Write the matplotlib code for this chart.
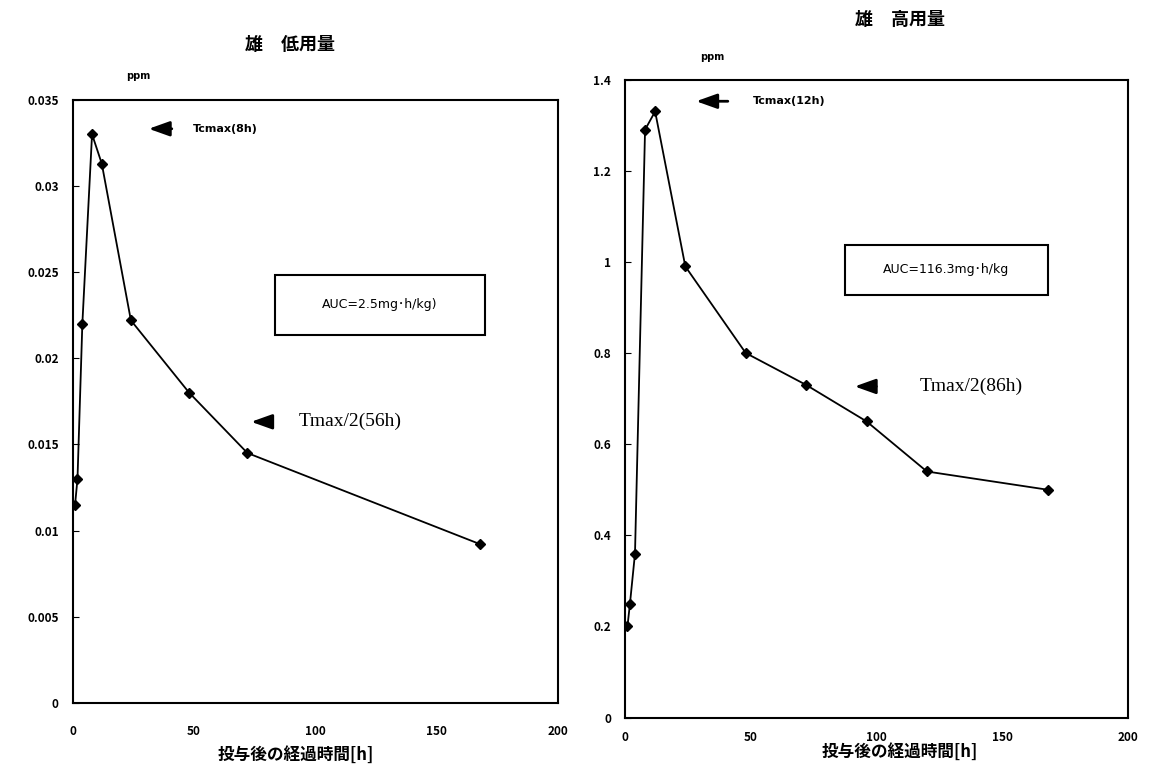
import matplotlib
matplotlib.use('Agg')
import matplotlib.pyplot as plt
from matplotlib import ticker
from matplotlib.patches import Rectangle

plt.rcParams['font.family'] = ['Noto Sans CJK JP', 'DejaVu Sans']

# 雄 低用量
low_hours = [1, 2, 4, 8, 12, 24, 48, 72, 168]
low_ppm = [0.0115, 0.013, 0.022, 0.033, 0.0313, 0.0222, 0.018, 0.0145, 0.0092]
low_yticks = [0, 0.005, 0.01, 0.015, 0.02, 0.025, 0.03, 0.035]

# 雄 高用量
high_hours = [1, 2, 4, 8, 12, 24, 48, 72, 96, 120, 168]
high_ppm = [0.2, 0.25, 0.36, 1.29, 1.33, 0.99, 0.80, 0.73, 0.65, 0.54, 0.50]
high_yticks = [0, 0.2, 0.4, 0.6, 0.8, 1.0, 1.2, 1.4]

xticks = [0, 50, 100, 150, 200]
xlabel = '投与後の経過時間[h]'
sans = ['DejaVu Sans', 'Noto Sans CJK JP']
arrow = dict(arrowstyle='-|>,head_length=0.7,head_width=0.25',
             color='black', lw=2, mutation_scale=18)


def draw_panel(ax, hours, ppm, yticks, title, tcmax, auc, tmax2, pos):
    ax.plot(hours, ppm, color='black', lw=1.3, marker='D', ms=5, mfc='black')
    ax.set_xlim(0, 200)
    ax.set_ylim(0, yticks[-1])
    ax.set_xticks(xticks)
    ax.set_yticks(yticks)
    ax.yaxis.set_major_formatter(ticker.FuncFormatter(lambda v, p: '%g' % v))
    ax.tick_params(axis='y', direction='in', length=4, labelsize=8.5, pad=10)
    ax.tick_params(axis='x', length=0, labelsize=8.5, pad=pos['xpad'])
    for lab in ax.get_xticklabels() + ax.get_yticklabels():
        lab.set_fontweight('bold')
    for s in ax.spines.values():
        s.set_linewidth(1.5)
    ax.set_xlabel(xlabel, fontsize=12, fontweight='bold')
    ax.xaxis.set_label_coords(pos['xlab'][0], pos['xlab'][1])
    ax.text(pos['title'][0], pos['title'][1], title, transform=ax.transAxes,
            fontsize=13, fontweight='bold', ha='center', va='center')
    ax.text(pos['ppm'][0], pos['ppm'][1], 'ppm', transform=ax.transAxes,
            fontsize=7, fontweight='bold', family=sans)

    # Tcmax arrow + label
    ax.annotate('', xy=(pos['tc_tip'], pos['tc_y']), xytext=(pos['tc_tail'], pos['tc_y']),
                xycoords='axes fraction', arrowprops=arrow)
    ax.text(pos['tc_text'], pos['tc_y'], tcmax, transform=ax.transAxes,
            fontsize=8, fontweight='bold', va='center', family=sans)

    # AUC box
    x0, y0, x1, y1 = pos['auc']
    ax.add_patch(Rectangle((x0, y0), x1 - x0, y1 - y0, transform=ax.transAxes,
                           fc='white', ec='black', lw=1.5, zorder=3))
    ax.text((x0 + x1) / 2, (y0 + y1) / 2, auc, transform=ax.transAxes,
            fontsize=9, ha='center', va='center', family=sans, zorder=4)

    # Tmax/2 arrow + label
    ax.annotate('', xy=(pos['t2_tip'], pos['t2_y']), xytext=(pos['t2_tail'], pos['t2_y']),
                xycoords='axes fraction', arrowprops=arrow)
    ax.text(pos['t2_text'], pos['t2_y'], tmax2, transform=ax.transAxes,
            fontsize=14, va='center', family='Liberation Serif')


fig = plt.figure(figsize=(11.53, 7.8), dpi=100)
ax1 = fig.add_axes([0.063, 0.099, 0.421, 0.773])
ax2 = fig.add_axes([0.542, 0.080, 0.4365, 0.818])

draw_panel(ax1, low_hours, low_ppm, low_yticks, '雄　低用量',
           'Tcmax(8h)', 'AUC=2.5mg･h/kg)', 'Tmax/2(56h)',
           dict(title=(0.447, 1.091), xpad=16, xlab=(0.46, -0.072), ppm=(0.11, 1.035),
                tc_tip=0.151, tc_tail=0.21, tc_y=0.952, tc_text=0.248,
                auc=(0.4165, 0.610, 0.849, 0.710),
                t2_tip=0.362, t2_tail=0.415, t2_y=0.466, t2_text=0.466))

draw_panel(ax2, high_hours, high_ppm, high_yticks, '雄　高用量',
           'Tcmax(12h)', 'AUC=116.3mg･h/kg', 'Tmax/2(86h)',
           dict(title=(0.547, 1.094), xpad=10, xlab=(0.547, -0.04), ppm=(0.15, 1.03),
                tc_tip=0.136, tc_tail=0.21, tc_y=0.966, tc_text=0.255,
                auc=(0.437, 0.663, 0.841, 0.741),
                t2_tip=0.451, t2_tail=0.505, t2_y=0.519, t2_text=0.585))

fig.savefig('out.png', dpi=100)
